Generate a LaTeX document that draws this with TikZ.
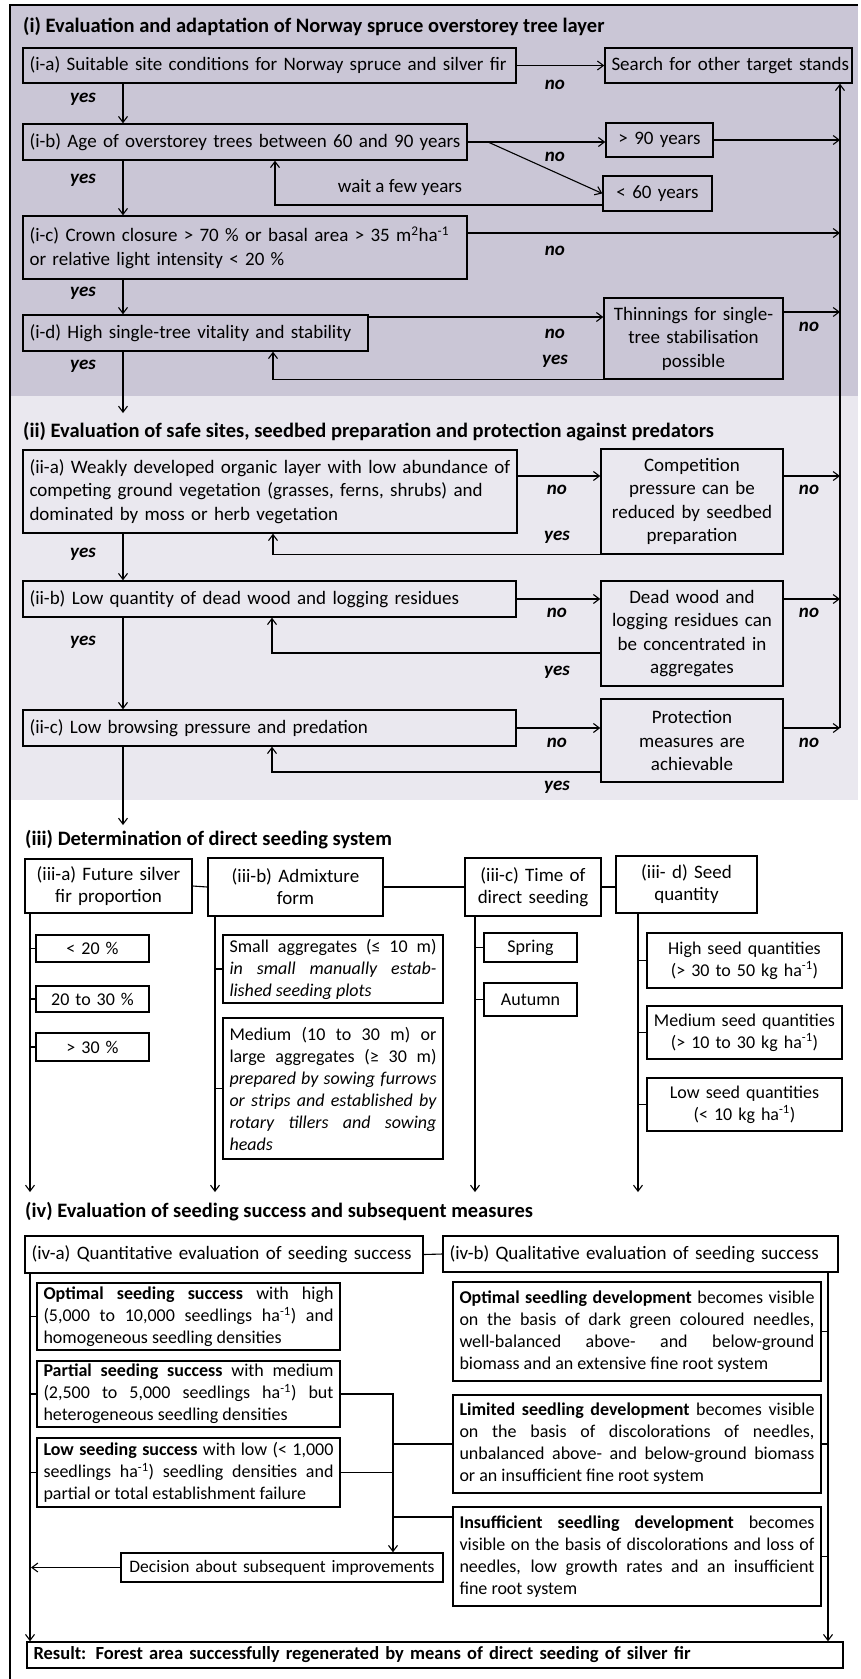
\documentclass[tikz,border=0pt]{standalone}
\usepackage{fontspec}
\setmainfont{Carlito}
\usetikzlibrary{arrows.meta}
\definecolor{secI}{RGB}{202,198,214}
\definecolor{secII}{RGB}{234,232,239}
\newcommand\fA{\fontsize{19}{23.5}\selectfont}
\newcommand\fB{\fontsize{19}{22}\selectfont}
\newcommand\fC{\fontsize{18}{22}\selectfont}
\newcommand\fT{\fontsize{20.5}{24}\selectfont\bfseries}
\newcommand\fL{\fontsize{19}{23}\selectfont\bfseries\itshape}
\newcommand\BX[7]{%
  \pgfmathsetmacro\bw{#4-#2}\pgfmathsetmacro\bh{#5-#3}\pgfmathsetmacro\tw{#4-#2-13}%
  \node[box,#6,minimum width=\bw pt,minimum height=\bh pt,text width=\tw pt] (#1) at ({(#2+#4)/2},{(#3+#5)/2}) {#7};}
\begin{document}
\begin{tikzpicture}[x=1pt,y=-1pt,
  font=\fA,
  box/.style={draw, line width=1.4pt, inner xsep=6.5pt, inner ysep=1pt},
  lab/.style={font=\fL, inner sep=0pt},
  ttl/.style={font=\fT, anchor=west, inner sep=0pt},
  ln/.style={line width=1.1pt},
  arr/.style={ln, -{Straight Barb[length=6pt,width=9pt,line width=1.1pt]}}]
\useasboundingbox (0,0) rectangle (861,1679);
\fill[secI] (10,5) rectangle (858,396);
\fill[secII] (10,396) rectangle (858,800);
\draw[line width=1.3pt] (10,1679) -- (10,5) -- (858,5);

% helper coordinates
\coordinate (D) at (123,0);
\coordinate (R) at (840,0);
\coordinate (X275) at (275,0);
\coordinate (X273) at (273,0);
\coordinate (X272) at (272,0);
\coordinate (Y205) at (0,205);
\coordinate (Y233) at (0,233);
\coordinate (Y317) at (0,317);
\coordinate (Y312) at (0,312);
\coordinate (Y413) at (0,413);
\coordinate (Y476) at (0,476);
\coordinate (Y653) at (0,653);
\coordinate (Y772) at (0,772);
\coordinate (Y825) at (0,825);

% ---------- section (i)
\node[ttl] (t1) at (23,27) {(i) Evaluation and adaptation of Norway spruce overstorey tree layer};
\BX{ia}{23}{48}{516}{83}{align=left}{\mbox{(i-a) Suitable site conditions for Norway spruce and silver fir}}
\BX{search}{605}{48}{852}{83}{align=center}{\mbox{Search for other target stands}}
\BX{ib}{23}{124}{467}{160}{align=left}{\mbox{(i-b) Age of overstorey trees between 60 and 90 years}}
\BX{gt}{606}{123}{713}{157}{align=center}{\mbox{> 90 years}}
\BX{lt}{603}{176}{712}{211}{align=center}{\mbox{< 60 years}}
\BX{ic}{23}{216}{467}{279}{align=left}{\mbox{(i-c) Crown closure > 70 \% or basal area > 35 m\textsuperscript{2}ha\textsuperscript{-1}}\\\mbox{or relative light intensity < 20 \%}}
\BX{id}{23}{315}{368}{351}{align=left}{\mbox{(i-d) High single-tree vitality and stability}}
\BX{thin}{604}{298}{783}{379}{align=center}{\mbox{Thinnings for single-}\\\mbox{tree stabilisation}\\possible}
\coordinate (sp) at (488,142);

\draw[arr] (ia.east) -- (search.west);
\draw[arr] (ia.south -| D) -- (ib.north -| D);
\draw[arr] (ib.east) -- (gt.west |- ib.east);
\draw[arr] (sp) -- (lt.west);
\draw[arr] (gt.east) -- (R |- gt.east);
\draw[arr] (lt.west |- Y205) -- (X275 |- Y205) -- (ib.south -| X275);
\draw[arr] (ib.south -| D) -- (ic.north -| D);
\draw[arr] (ic.east |- Y233) -- (R |- Y233);
\draw[arr] (ic.south -| D) -- (id.north -| D);
\draw[arr] (id.east |- Y317) -- (thin.west |- Y317);
\draw[arr] (thin.east |- Y312) -- (R |- Y312);
\draw[arr] (thin.south west) -| (id.south -| X273);
\draw[arr] (id.south -| D) -- (D |- Y413);

\node[lab] (l1) at (83,99) {yes};
\node[lab] (l2) at (555,85) {no};
\node[lab] (l3) at (83,180) {yes};
\node[lab] (l4) at (555,157) {no};
\node[inner sep=0pt] (l5) at (400,187) {wait a few years};
\node[lab] (l6) at (83,293) {yes};
\node[lab] (l7) at (555,251) {no};
\node[lab] (l8) at (83,366) {yes};
\node[lab] (l9) at (555,334) {no};
\node[lab] (l10) at (555,361) {yes};
\node[lab] (l11) at (809,327) {no};

% ---------- section (ii)
\node[ttl] (t2) at (23,432) {(ii) Evaluation of safe sites, seedbed preparation and protection against predators};
\BX{iia}{23}{450}{517}{533}{align=left}{\mbox{(ii-a) Weakly developed organic layer with low abundance of}\\\mbox{competing ground vegetation (grasses, ferns, shrubs) and}\\\mbox{dominated by moss or herb vegetation}}
\BX{comp}{601}{449}{783}{554}{align=center}{\mbox{Competition}\\\mbox{pressure can be}\\\mbox{reduced by seedbed}\\\mbox{preparation}}
\BX{iib}{23}{581}{516}{617}{align=left}{\mbox{(ii-b) Low quantity of dead wood and logging residues}}
\BX{dead}{601}{581}{783}{686}{align=center}{\mbox{Dead wood and}\\\mbox{logging residues can}\\\mbox{be concentrated in}\\\mbox{aggregates}}
\BX{iic}{23}{710}{516}{746}{align=left}{\mbox{(ii-c) Low browsing pressure and predation}}
\BX{prot}{601}{699}{783}{782}{align=center}{\mbox{Protection}\\\mbox{measures are}\\\mbox{achievable}}

\draw[arr] (iia.east |- Y476) -- (comp.west |- Y476);
\draw[arr] (comp.east |- Y476) -- (R |- Y476);
\draw[arr] (comp.south west) -| (iia.south -| X273);
\draw[arr] (iia.south -| D) -- (iib.north -| D);
\draw[arr] (iib.east) -- (dead.west |- iib.east);
\draw[arr] (dead.east |- iib.east) -- (R |- iib.east);
\draw[arr] (dead.west |- Y653) -| (iib.south -| X272);
\draw[arr] (iib.south -| D) -- (iic.north -| D);
\draw[arr] (iic.east) -- (prot.west |- iic.east);
\draw[arr] (prot.east |- iic.east) -- (R |- iic.east);
\draw[arr] (prot.west |- Y772) -| (iic.south -| X272);
\draw[arr] (iic.south -| D) -- (D |- Y825);
\draw[arr] (R |- iic.east) -- (R |- search.south);

\node[lab] (m1) at (83,554) {yes};
\node[lab] (m2) at (557,490) {no};
\node[lab] (m3) at (557,537) {yes};
\node[lab] (m4) at (809,490) {no};
\node[lab] (m5) at (83,642) {yes};
\node[lab] (m6) at (557,613) {no};
\node[lab] (m7) at (557,672) {yes};
\node[lab] (m8) at (809,613) {no};
\node[lab] (m9) at (557,743) {no};
\node[lab] (m10) at (557,787) {yes};
\node[lab] (m11) at (809,743) {no};

% ---------- section (iii)
\begin{scope}[font=\fC]
\node[ttl] (t3) at (25,840) {(iii) Determination of direct seeding system};
\BX{iiia}{25}{859}{192}{913}{align=center,font=\fB}{(iii-a) Future silver\\fir proportion}
\BX{iiib}{208}{858}{383}{916}{align=center,font=\fB}{(iii-b) Admixture\\form}
\BX{iiic}{465}{858}{601}{916}{align=center,font=\fB}{\mbox{(iii-c) Time of}\\\mbox{direct seeding}}
\BX{iiid}{616}{856}{757}{913}{align=center,font=\fB}{(iii- d) Seed\\quantity}
\BX{pa}{36}{935}{149}{962}{align=center}{< 20 \%}
\BX{pb}{36}{986}{149}{1012}{align=center}{20 to 30 \%}
\BX{pc}{36}{1033}{149}{1061}{align=center}{> 30 \%}
\BX{sm}{223}{935}{443}{1003}{align=justify}{Small aggregates (≤ 10 m)\linebreak\textit{in small manually estab-\linebreak lished seeding plots}}
\BX{md}{223}{1018}{443}{1159}{align=justify}{Medium (10 to 30 m) or\linebreak large aggregates (≥ 30 m)\linebreak\textit{prepared by sowing furrows\linebreak or strips and established by\linebreak rotary tillers and sowing\linebreak heads}}
\BX{spr}{484}{933}{577}{962}{align=center}{Spring}
\BX{aut}{484}{983}{577}{1016}{align=center}{Autumn}
\BX{hi}{647}{933}{842}{988}{align=center}{High seed quantities\\(> 30 to 50 kg ha\textsuperscript{-1})}
\BX{me}{647}{1006}{842}{1059}{align=center}{Medium seed quantities\\(> 10 to 30 kg ha\textsuperscript{-1})}
\BX{lo}{647}{1078}{842}{1131}{align=center}{Low seed quantities\\(< 10 kg ha\textsuperscript{-1})}
\end{scope}
\coordinate (A1) at (30,0);
\coordinate (B1) at (215,0);
\coordinate (C1) at (475,0);
\coordinate (E1) at (638,0);
\coordinate (Y1192) at (0,1192);
\draw[ln] (iiia.east) -- (iiib.west);
\draw[ln] (iiib.east) -- (iiic.west);
\draw[ln] (iiic.east) -- (iiid.west |- iiic.east);
\draw[arr] (iiia.south -| A1) -- (A1 |- Y1192);
\draw[arr] (iiib.south -| B1) -- (B1 |- Y1192);
\draw[arr] (iiic.south -| C1) -- (C1 |- Y1192);
\draw[arr] (iiid.south -| E1) -- (E1 |- Y1192);
\draw[ln] (pa.west -| A1) -- (pa.west);
\draw[ln] (pb.west -| A1) -- (pb.west);
\draw[ln] (pc.west -| A1) -- (pc.west);
\draw[ln] (sm.west -| B1) -- (sm.west);
\draw[ln] (md.west -| B1) -- (md.west);
\draw[ln] (spr.west -| C1) -- (spr.west);
\draw[ln] (aut.west -| C1) -- (aut.west);
\draw[ln] (hi.west -| E1) -- (hi.west);
\draw[ln] (me.west -| E1) -- (me.west);
\draw[ln] (lo.west -| E1) -- (lo.west);

% ---------- section (iv)
\begin{scope}[font=\fC]
\node[ttl] (t4) at (25,1212) {(iv) Evaluation of seeding success and subsequent measures};
\BX{iva}{25}{1236}{423}{1273}{align=left,font=\fB}{\mbox{(iv-a) Quantitative evaluation of seeding success}}
\BX{ivb}{443}{1236}{838}{1272}{align=left,font=\fB}{\mbox{(iv-b) Qualitative evaluation of seeding success}}
\BX{opt}{37}{1283}{340}{1350}{align=justify}{\textbf{Optimal seeding success} with high\linebreak (5,000 to 10,000 seedlings ha\textsuperscript{-1}) and\linebreak homogeneous seedling densities}
\BX{part}{37}{1361}{340}{1427}{align=justify}{\textbf{Partial seeding success} with medium\linebreak (2,500 to 5,000 seedlings ha\textsuperscript{-1}) but\linebreak heterogeneous seedling densities}
\BX{low}{37}{1438}{340}{1507}{align=justify}{\textbf{Low seeding success} with low (< 1,000\linebreak seedlings ha\textsuperscript{-1}) seedling densities and\linebreak partial or total establishment failure}
\BX{optd}{453}{1282}{821}{1381}{align=justify}{\textbf{Optimal seedling development} becomes visible\linebreak on the basis of dark green coloured needles,\linebreak well-balanced above- and below-ground\linebreak biomass and an extensive fine root system}
\BX{limd}{453}{1395}{821}{1493}{align=justify}{\textbf{Limited seedling development} becomes visible\linebreak on the basis of discolorations of needles,\linebreak unbalanced above- and below-ground biomass\linebreak or an insufficient fine root system}
\BX{insd}{453}{1507}{821}{1606}{align=justify}{\textbf{Insufficient seedling development} becomes\linebreak visible on the basis of discolorations and loss of\linebreak needles, low growth rates and an insufficient\linebreak fine root system}
\BX{dec}{121}{1553}{443}{1582}{align=center,font=\fontsize{17.5}{22}\selectfont}{\mbox{Decision about subsequent improvements}}
\BX{res}{27}{1642}{843}{1668}{align=left,font=\fontsize{18.5}{22}\selectfont}{\mbox{\textbf{Result: Forest area successfully regenerated by means of direct seeding of silver fir}}}
\end{scope}
\coordinate (L) at (30,0);
\coordinate (M) at (393,0);
\coordinate (Q) at (828,0);
\coordinate (Y1517) at (0,1517);
\draw[ln] (iva.east) -- (ivb.west);
\draw[arr] (iva.south -| L) -- (L |- res.north);
\draw[ln] (opt.west -| L) -- (opt.west);
\draw[ln] (part.west -| L) -- (part.west);
\draw[ln] (low.west -| L) -- (low.west);
\draw[arr] (part.east) -| (M |- dec.north);
\draw[ln] (low.east) -- (low.east -| M);
\draw[ln] (M |- limd.west) -- (limd.west);
\draw[ln] (M |- Y1517) -- (insd.west |- Y1517);
\draw[arr, shorten >=1pt] (dec.west) -- (L |- dec.west);
\draw[arr] (ivb.south -| Q) -- (Q |- res.north);
\draw[ln] (optd.east) -- (optd.east -| Q);
\draw[ln] (limd.east) -- (limd.east -| Q);
\draw[ln] (insd.east) -- (insd.east -| Q);
\end{tikzpicture}
\end{document}
